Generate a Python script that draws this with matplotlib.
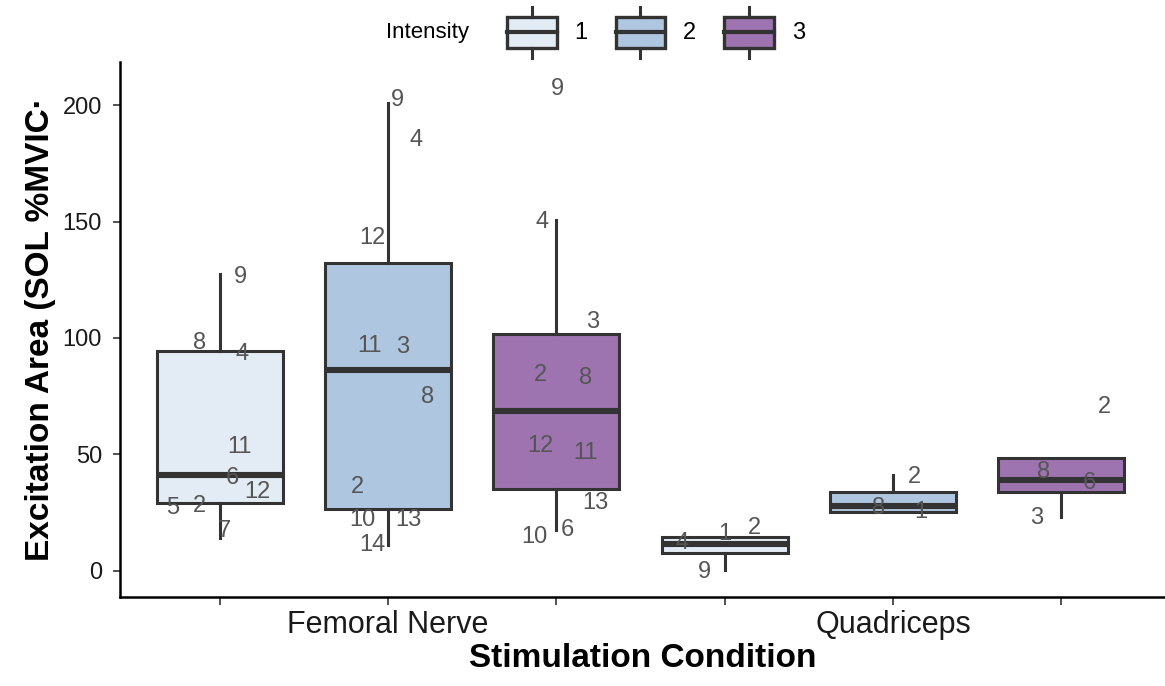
import numpy as np
import matplotlib.pyplot as plt
from matplotlib.patches import Rectangle
from matplotlib.lines import Line2D
from matplotlib.legend_handler import HandlerBase

plt.rcParams['font.family'] = ['Liberation Sans', 'DejaVu Sans']

conditions = ["Femoral Nerve", "Quadriceps"]
intensities = ["1", "2", "3"]
fills = ["#E3ECF4", "#AFC6E0", "#9D74B0"]

# box stats, order: FN-1, FN-2, FN-3, Q-1, Q-2, Q-3
whislo = [14.0, 11.0, 17.6, 0.5, 25.5, 23.3]
q1 = [29.2, 26.6, 35.2, 7.5, 25.5, 34.0]
med = [41.0, 86.3, 68.7, 11.5, 27.9, 39.0]
q3 = [94.4, 132.0, 101.7, 14.5, 34.0, 48.4]
whishi = [127.5, 201.0, 150.6, 14.5, 41.2, 48.4]

# subject labels per box: id, jitter offset, value
label_ids = [
    ["9", "8", "4", "11", "6", "12", "5", "2", "7"],
    ["9", "4", "12", "11", "3", "8", "2", "10", "13", "14"],
    ["9", "4", "3", "2", "8", "12", "11", "13", "10", "6"],
    ["9", "2", "1", "4"],
    ["2", "8", "1"],
    ["2", "8", "6", "3"],
]
label_jit = [
    [0.04, -0.04, 0.045, 0.04, 0.024, 0.075, -0.093, -0.04, 0.01],
    [0.018, 0.055, -0.032, -0.036, 0.028, 0.079, -0.061, -0.051, 0.04, -0.032],
    [0.002, -0.028, 0.071, -0.032, 0.057, -0.032, 0.057, 0.077, -0.044, 0.022],
    [-0.04, 0.06, 0.0, -0.085],
    [0.042, -0.028, 0.055],
    [0.085, -0.034, 0.055, -0.048],
]
label_val = [
    [126, 98, 93, 53, 40, 34, 27, 28, 17],
    [202, 185, 143, 96.6, 96, 74.7, 36, 22, 22, 11],
    [207, 150, 107, 84, 83, 53.6, 50.6, 29, 14.6, 17.6],
    [-0.5, 18.5, 16, 12],
    [40.3, 27, 25.3],
    [70.5, 42.6, 37.8, 22.7],
]


class BoxKey(HandlerBase):
    def __init__(self, fill):
        super().__init__()
        self.fill = fill

    def create_artists(self, legend, orig_handle, xdescent, ydescent,
                       width, height, fontsize, trans):
        x0, y0 = -xdescent, -ydescent
        cx = x0 + width / 2
        rect = Rectangle((x0, y0 + 0.15 * height), width, 0.7 * height,
                         facecolor=self.fill, edgecolor="#333333", lw=2.4,
                         transform=trans)
        mid = Line2D([x0, x0 + width], [y0 + height / 2] * 2, color="#333333",
                     lw=3.0, transform=trans)
        top = Line2D([cx, cx], [y0 + 0.85 * height, y0 + 1.08 * height],
                     color="#333333", lw=2.2, transform=trans)
        bot = Line2D([cx, cx], [y0 - 0.08 * height, y0 + 0.15 * height],
                     color="#333333", lw=2.2, transform=trans)
        return [rect, mid, top, bot]


fig = plt.figure(figsize=(11.65, 6.86), dpi=100)
ax = fig.add_axes([0.103, 0.1297, 0.897, 0.78])

dodge = 1 / 3
positions = []
colors = []
for ci in range(len(conditions)):
    for ii in range(len(intensities)):
        positions.append(ci + 1 + (ii - 1) * dodge)
        colors.append(fills[ii])

stats = []
for k in range(len(positions)):
    stats.append(dict(whislo=whislo[k], q1=q1[k], med=med[k], q3=q3[k],
                      whishi=whishi[k], fliers=[]))

bp = ax.bxp(stats, positions=positions, widths=0.25, patch_artist=True,
            showcaps=False, showfliers=False,
            boxprops=dict(edgecolor="#333333", linewidth=2.2),
            whiskerprops=dict(color="#333333", linewidth=2.2),
            medianprops=dict(color="#333333", linewidth=4.4,
                             solid_capstyle="butt"))
for patch, c in zip(bp["boxes"], colors):
    patch.set_facecolor(c)

for k in range(len(positions)):
    for lab, j, v in zip(label_ids[k], label_jit[k], label_val[k]):
        ax.text(positions[k] + j, v, lab, ha="center", va="center",
                fontsize=17, color="#555555", zorder=5)

ax.set_xlim(0.469, 2.539)
ax.set_ylim(-11.2, 218.5)
ax.set_yticks([0, 50, 100, 150, 200])
ax.set_xticks(positions)
ax.set_xticklabels(["", conditions[0], "", "", conditions[1], ""])

for s in ["top", "right"]:
    ax.spines[s].set_visible(False)
for s in ["left", "bottom"]:
    ax.spines[s].set_linewidth(1.8)
ax.tick_params(axis="y", labelsize=17, colors="#333333", length=5, width=1.2,
               pad=8)
ax.tick_params(axis="x", labelsize=22, colors="#333333", length=6, width=1.2)
for t in ax.get_xticklabels() + ax.get_yticklabels():
    t.set_color("#1a1a1a")

ax.set_xlabel("Stimulation Condition", fontsize=24, fontweight="bold",
              labelpad=2)
ax.set_ylabel("Excitation Area (SOL %MVIC·", fontsize=24, fontweight="bold",
              labelpad=5)

handles = [Rectangle((0, 0), 1, 1) for _ in intensities]
fig.legend(handles, intensities, loc="center", bbox_to_anchor=(0.563, 0.953),
           ncol=3, frameon=False, fontsize=17, handlelength=2.1,
           handleheight=2.5, handletextpad=0.75, columnspacing=1.2,
           handler_map={h: BoxKey(f) for h, f in zip(handles, fills)})
fig.text(0.367, 0.953, "Intensity", fontsize=16, ha="center", va="center")

fig.savefig("out.png", dpi=100)
